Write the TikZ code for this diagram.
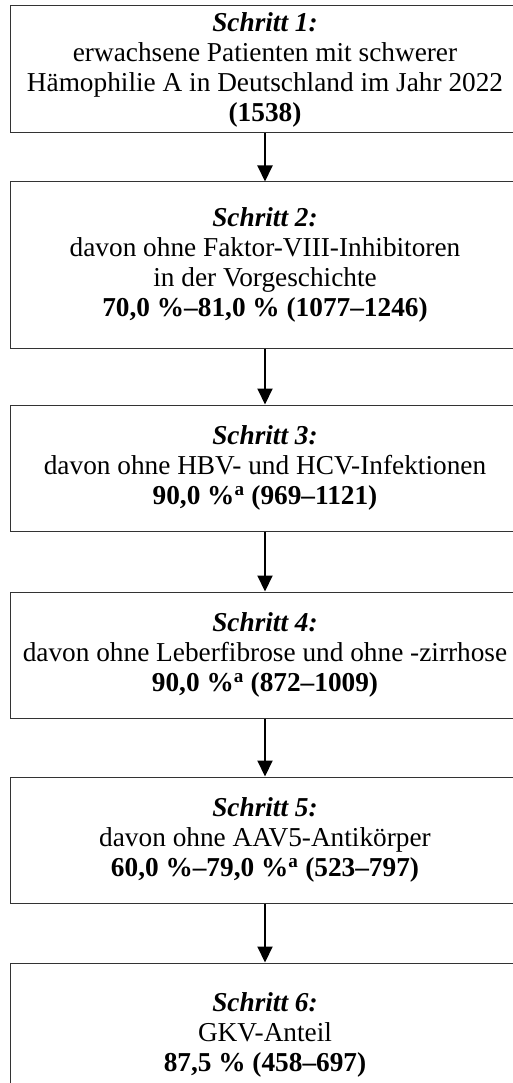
\documentclass[tikz,border=0pt]{standalone}
\usepackage{fontspec}
\setmainfont{Liberation Serif}
\usetikzlibrary{arrows.meta}
\begin{document}
\begin{tikzpicture}[x=1pt,y=1pt,
  stepbox/.style={draw=black!80, line width=1pt, minimum width=510pt, align=center, inner sep=0pt,
    font=\fontsize{27.3}{30}\selectfont},
  flowarrow/.style={line width=2pt, -{Triangle[length=16pt,width=15pt]}}]
\useasboundingbox (0,0) rectangle (513,-1083);
\clip (0,0) rectangle (513,-1083);
\node[stepbox, minimum height=127pt] (s1) at (265,-69.5)
  {\textbf{\textit{Schritt 1:}}\\erwachsene Patienten mit schwerer\\Hämophilie A in Deutschland im Jahr 2022\\\textbf{(1538)}};
\node[stepbox, minimum height=166pt] (s2) at (265,-265)
  {\textbf{\textit{Schritt 2:}}\\davon ohne Faktor-VIII-Inhibitoren\\in der Vorgeschichte\\\textbf{70,0 \%–81,0 \% (1077–1246)}};
\node[stepbox, minimum height=126pt] (s3) at (265,-468)
  {\textbf{\textit{Schritt 3:}}\\davon ohne HBV- und HCV-Infektionen\\\textbf{90,0 \%\textsuperscript{a} (969–1121)}};
\node[stepbox, minimum height=126pt] (s4) at (265,-655)
  {\textbf{\textit{Schritt 4:}}\\davon ohne Leberfibrose und ohne -zirrhose\\\textbf{90,0 \%\textsuperscript{a} (872–1009)}};
\node[stepbox, minimum height=126pt] (s5) at (265,-840)
  {\textbf{\textit{Schritt 5:}}\\davon ohne AAV5-Antikörper\\\textbf{60,0 \%–79,0 \%\textsuperscript{a} (523–797)}};
\node[stepbox, minimum height=143pt] (s6) at (265,-1034.5)
  {\textbf{\textit{Schritt 6:}}\\GKV-Anteil\\\textbf{87,5 \% (458–697)}};
\draw[flowarrow] (s1.south) -- (s2.north);
\draw[flowarrow] (s2.south) -- (s3.north);
\draw[flowarrow] (s3.south) -- (s4.north);
\draw[flowarrow] (s4.south) -- (s5.north);
\draw[flowarrow] (s5.south) -- (s6.north);
\end{tikzpicture}
\end{document}
